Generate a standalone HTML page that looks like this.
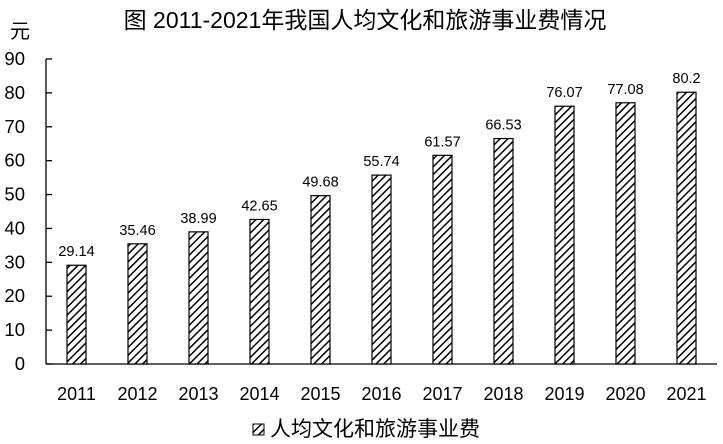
<!DOCTYPE html>
<html><head><meta charset="utf-8"><style>
html,body{margin:0;padding:0;background:#fff;}
svg{display:block;font-family:"Liberation Sans","Noto Sans CJK SC",sans-serif;}
</style></head><body>
<svg id="chart" width="723" height="444" viewBox="0 0 723 444">
<defs>
<pattern id="hatch" patternUnits="userSpaceOnUse" width="5.5" height="5.5" patternTransform="rotate(45)">
<rect width="5.5" height="5.5" fill="#fff"/>
<line x1="0" y1="0" x2="0" y2="5.5" stroke="#000" stroke-width="3"/>
</pattern>
</defs>
<text x="365" y="28" text-anchor="middle" font-size="23">图  2011-2021年我国人均文化和旅游事业费情况</text>
<text x="20" y="38" text-anchor="middle" font-size="20">元</text>
<g id="axes"></g>
<g id="bars"></g>
<g>
<rect x="253" y="424" width="11" height="11" fill="url(#hatch)" stroke="#000" stroke-width="1"/>
<text x="270" y="436" font-size="21">人均文化和旅游事业费</text>
</g>
</svg>
<script>
const categories = ["2011","2012","2013","2014","2015","2016","2017","2018","2019","2020","2021"];
const values = [29.14,35.46,38.99,42.65,49.68,55.74,61.57,66.53,76.07,77.08,80.2];
const valueLabels = ["29.14","35.46","38.99","42.65","49.68","55.74","61.57","66.53","76.07","77.08","80.2"];
const yTicks = [0,10,20,30,40,50,60,70,80,90];
const NS="http://www.w3.org/2000/svg";
const x0=46, x1=717, y0=364, yTop=59, yMax=90;
const band=(x1-x0)/categories.length, barW=19;
const y=v=>y0-(v/yMax)*(y0-yTop);
const xc=i=>x0+band*(i+0.5);
function mk(t,a,p){const e=document.createElementNS(NS,t);for(const k in a)e.setAttribute(k,a[k]);p.appendChild(e);return e;}
const axes=document.getElementById('axes'), bars=document.getElementById('bars');
const yl=mk('line',{x1:x0,y1:y(yMax),x2:x0,y2:y0,stroke:'#000','stroke-width':1.3},axes);


const xl=mk('line',{x1:x0,y1:y0,x2:x1,y2:y0,stroke:'#000','stroke-width':1.3},axes);


yTicks.forEach(t=>{
 const tk=mk('line',{x1:x0,y1:y(t),x2:x0+6,y2:y(t),stroke:'#000','stroke-width':1.3},axes);
 
 
 const tx=mk('text',{x:25,y:y(t)+6,'text-anchor':'end','font-size':18.5},axes);
 tx.textContent=t;
 
 
});
categories.forEach((c,i)=>{
 const r=mk('rect',{x:xc(i)-barW/2,y:y(values[i]),width:barW,height:y0-y(values[i]),fill:'url(#hatch)',stroke:'#000','stroke-width':1.2},bars);
 
 
 const vl=mk('text',{x:xc(i),y:y(values[i])-9,'text-anchor':'middle','font-size':14.5},bars);
 vl.textContent=valueLabels[i];
 
 
 const cl=mk('text',{x:xc(i),y:400,'text-anchor':'middle','font-size':18},bars);
 cl.textContent=c;
 
 
});
</script>
</body></html>
